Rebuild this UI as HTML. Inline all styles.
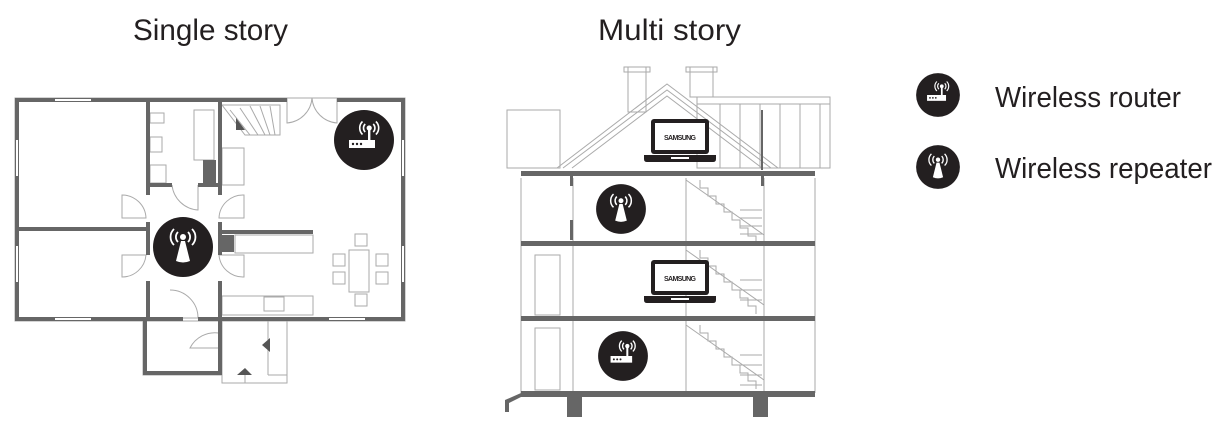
<!DOCTYPE html>
<html><head><meta charset="utf-8"><style>
html,body{margin:0;padding:0;background:#fff;}
svg{display:block;}
</style></head><body>
<svg width="1223" height="434" viewBox="0 0 1223 434" xmlns="http://www.w3.org/2000/svg">
<defs>
<g id="router">
<circle r="30" fill="#231f20"/>
<rect x="-15" y="0" width="26" height="8" fill="#fff"/>
<circle cx="-11" cy="4" r="1.2" fill="#231f20"/><circle cx="-7" cy="4" r="1.2" fill="#231f20"/><circle cx="-3" cy="4" r="1.2" fill="#231f20"/>
<rect x="4" y="-12" width="2.4" height="12" fill="#fff"/>
<circle cx="5.2" cy="-12" r="2.6" fill="#fff"/>
<g fill="none" stroke="#fff" stroke-width="1.6">
<path d="M1.2,-16 A5.5,5.5 0 0 0 1.2,-8"/><path d="M9.2,-16 A5.5,5.5 0 0 1 9.2,-8"/>
<path d="M-1.5,-18.5 A9,9 0 0 0 -1.5,-5.5"/><path d="M11.9,-18.5 A9,9 0 0 1 11.9,-5.5"/>
</g>
</g>
<g id="rep">
<circle r="30" fill="#231f20"/>
<path d="M-2,-6 L2,-6 L7,14 Q0,17 -7,14 Z" fill="#fff"/>
<circle cx="0" cy="-10" r="3" fill="#fff"/>
<g fill="none" stroke="#fff" stroke-width="1.8">
<path d="M-5,-15 A7,7 0 0 0 -5,-5"/><path d="M5,-15 A7,7 0 0 1 5,-5"/>
<path d="M-9,-18 A11,11 0 0 0 -9,-2"/><path d="M9,-18 A11,11 0 0 1 9,-2"/>
</g>
</g>
<g id="laptop">
<rect x="-29" y="0" width="58" height="35" rx="3" fill="#231f20"/>
<rect x="-25" y="4" width="50" height="27" fill="#fff"/>
<text x="0" y="21" font-family="Liberation Sans, sans-serif" font-weight="bold" font-size="7" text-anchor="middle" fill="#231f20" textLength="32">SAMSUNG</text>
<path d="M-36,36 L36,36 L36,40 Q36,43 33,43 L-33,43 Q-36,43 -36,40 Z" fill="#231f20"/>
<rect x="-9" y="38" width="18" height="2" fill="#fff"/>
</g>
</defs>

<text x="133" y="40" font-family="Liberation Sans, sans-serif" font-size="30" fill="#231f20" textLength="155" lengthAdjust="spacingAndGlyphs">Single story</text>
<text x="598" y="40" font-family="Liberation Sans, sans-serif" font-size="30" fill="#231f20" textLength="143" lengthAdjust="spacingAndGlyphs">Multi story</text>

<!-- FLOOR PLAN -->
<g fill="none" stroke="#aaa" stroke-width="1">
<rect x="15" y="98" width="390" height="223"/>
<rect x="143" y="321" width="79" height="54"/>
<rect x="222" y="321" width="65" height="62"/>
<line x1="268" y1="321" x2="268" y2="375"/>
<line x1="268" y1="375" x2="287" y2="375"/>
<line x1="245" y1="375" x2="245" y2="383"/>
<rect x="194" y="110" width="20" height="50"/>
<rect x="222" y="148" width="22" height="37"/>
<rect x="150" y="113" width="14" height="10"/>
<rect x="150" y="137" width="12" height="15"/>
<rect x="150" y="165" width="16" height="18"/>
<rect x="235" y="235" width="78" height="18"/>
<rect x="222" y="296" width="91" height="19"/>
<rect x="264" y="297" width="20" height="14"/>
<rect x="349" y="250" width="20" height="42"/>
<rect x="355" y="234" width="12" height="12"/><rect x="355" y="294" width="12" height="12"/>
<rect x="333" y="254" width="12" height="12"/><rect x="333" y="272" width="12" height="12"/>
<rect x="376" y="254" width="12" height="12"/><rect x="376" y="272" width="12" height="12"/>
<path d="M222,105 L280,105 L280,135 L245,135 Z"/>
<path d="M230,110 L250,135 M240,108 L258,135 M250,106 L265,135 M260,106 L270,135 M270,106 L275,135"/>
<path d="M287,98 L287,123 A27,27 0 0 0 312,98 M312,98 A27,27 0 0 0 337,123 L337,98"/>
<path d="M122,195 A24,24 0 0 1 146,218 L122,218 Z M244,195 A24,24 0 0 0 219,218 L244,218 Z"/>
<path d="M122,277 A24,24 0 0 0 146,255 L122,255 Z M244,277 A24,24 0 0 1 219,255 L244,255 Z"/>
<path d="M172,185 A28,28 0 0 0 198,210 L198,185"/>
<path d="M170,290 A28,28 0 0 1 198,318 L170,318"/>
<path d="M190,348 A28,28 0 0 1 219,333 L219,348 Z"/>
</g>
<path d="M236,118 L245,130 L236,130 Z M270,338 L270,352 L262,345 Z M237,375 L252,375 L245,368 Z" fill="#555"/>
<g fill="#666">
<rect x="15" y="98" width="4" height="223"/><rect x="401" y="98" width="4" height="223"/>
<rect x="15" y="98" width="272" height="4"/><rect x="337" y="98" width="68" height="4"/>
<rect x="15" y="317" width="168" height="4"/><rect x="198" y="317" width="207" height="4"/>
<rect x="143" y="317" width="4" height="58"/><rect x="143" y="371" width="79" height="4"/><rect x="218" y="317" width="4" height="58"/>
<rect x="146" y="98" width="4" height="97"/><rect x="146" y="222" width="4" height="33"/><rect x="146" y="281" width="4" height="40"/>
<rect x="218" y="98" width="4" height="97"/><rect x="218" y="222" width="4" height="33"/><rect x="218" y="281" width="4" height="40"/>
<rect x="15" y="227" width="131" height="4"/>
<rect x="146" y="183" width="26" height="4"/><rect x="198" y="183" width="22" height="4"/>
<rect x="219" y="230" width="94" height="4"/>
<rect x="203" y="160" width="13" height="23"/>
<rect x="222" y="235" width="12" height="17"/>
</g>
<g fill="#fff"><rect x="55" y="99" width="36" height="2"/><rect x="55" y="318" width="36" height="2"/><rect x="329" y="318" width="36" height="2"/><rect x="16" y="140" width="2" height="36"/><rect x="16" y="246" width="2" height="36"/><rect x="402" y="140" width="2" height="36"/><rect x="402" y="246" width="2" height="36"/></g>
<use href="#router" x="364" y="140"/>
<use href="#rep" x="183" y="247"/>

<!-- MULTI STORY -->
<g fill="none" stroke="#aaa" stroke-width="1">
<rect x="507" y="110" width="53" height="58"/>
<rect x="697" y="97" width="133" height="71"/>
<line x1="697" y1="104" x2="830" y2="104"/>
<path d="M720,104 V168 M740,104 V168 M760,104 V168 M780,104 V168 M800,104 V168 M820,104 V168"/>
<rect x="628" y="67" width="18" height="45"/><rect x="624" y="67" width="26" height="5"/>
<rect x="690" y="67" width="23" height="30"/><rect x="686" y="67" width="31" height="5"/>
<path d="M557,168 L667,84 L778,168 M563,168 L667,90 L771,168 M572,168 L667,96 L762,168"/>
<path d="M521,178 V393 M815,178 V393 M573,178 V393 M764,178 V393 M686,178 V393 M573,178 V393"/>
<rect x="535" y="255" width="25" height="60"/><rect x="535" y="328" width="25" height="62"/>
<path d="M686,180 L764,235 M686,250 L764,305 M686,325 L764,380"/>
<path d="M700,180 v8 h8 v8 h8 v8 h8 v8 h8 v8 h8 v8 h8 v8 h8 v8 M700,250 v8 h8 v8 h8 v8 h8 v8 h8 v8 h8 v8 h8 v8 h8 v8 M700,325 v8 h8 v8 h8 v8 h8 v8 h8 v8 h8 v8 h8 v8 h8 v8"/>
<path d="M740,210 H762 M740,218 H762 M740,226 H762 M740,234 H762 M740,280 H762 M740,290 H762 M740,300 H762 M740,355 H762 M740,365 H762 M740,375 H762 M740,385 H762"/>
</g>
<g fill="#666">
<rect x="521" y="171" width="294" height="5"/>
<rect x="521" y="241" width="294" height="5"/>
<rect x="521" y="316" width="294" height="5"/>
<rect x="521" y="391" width="294" height="6"/>
<rect x="570" y="176" width="3" height="10"/><rect x="570" y="220" width="3" height="20"/>
<rect x="761" y="176" width="3" height="10"/><rect x="761" y="110" width="2" height="60"/>
<rect x="567" y="397" width="15" height="20"/><rect x="753" y="397" width="15" height="20"/>
<path d="M505,400 L521,393 L521,397 L509,403 L509,412 L505,412 Z"/>
</g>
<use href="#laptop" x="680" y="119"/>
<use href="#laptop" x="680" y="260"/>
<use href="#rep" transform="translate(621,209) scale(0.83)"/>
<use href="#router" transform="translate(623,356) scale(0.83)"/>

<!-- LEGEND -->
<use href="#router" transform="translate(938,95) scale(0.73)"/>
<use href="#rep" transform="translate(938,167) scale(0.73)"/>
<text x="995" y="107" font-family="Liberation Sans, sans-serif" font-size="29" fill="#231f20" textLength="186" lengthAdjust="spacingAndGlyphs">Wireless router</text>
<text x="995" y="178" font-family="Liberation Sans, sans-serif" font-size="29" fill="#231f20" textLength="217" lengthAdjust="spacingAndGlyphs">Wireless repeater</text>
</svg>
</body></html>
